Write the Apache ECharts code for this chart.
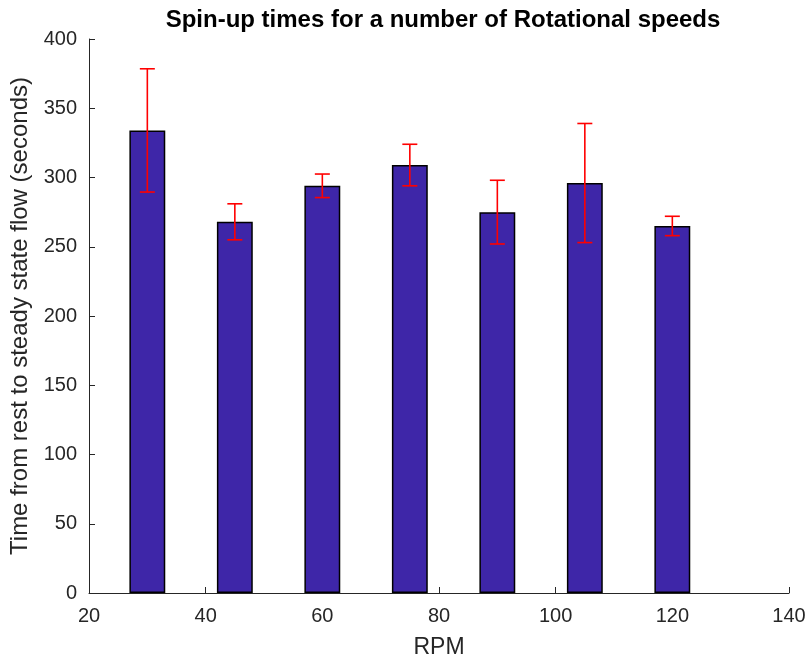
<!DOCTYPE html>
<html>
<head>
<meta charset="utf-8">
<title>Spin-up times</title>
<script src="https://cdn.jsdelivr.net/npm/echarts@6/dist/echarts.min.js"></script>
<style>
  html, body { margin: 0; padding: 0; background: #ffffff; }
  #chart { width: 809px; height: 664px; }
</style>
</head>
<body>
<div id="chart"></div>
<script>
// Rotational speeds (RPM) and the measured spin-up times
const rpm = [30, 45, 60, 75, 90, 105, 120];
const spinUpTime = [334, 268, 294, 309, 275, 296, 265];
const spinUpError = [44.5, 13, 8.5, 15, 23, 43, 7];

const xTicks = { min: 20, max: 140, interval: 20 };
const yTicks = { min: 0, max: 400, interval: 50 };

const FONT = '"Liberation Sans", Arial, Helvetica, sans-serif';
const INK = '#262626';

const chart = echarts.init(document.getElementById('chart'), null, { renderer: 'canvas' });

const barData = rpm.map((r, i) => [r, spinUpTime[i]]);
const errData = rpm.map((r, i) => [r, spinUpTime[i] - spinUpError[i], spinUpTime[i] + spinUpError[i]]);

const axisCommon = {
  axisLine: { show: true, lineStyle: { color: INK, width: 1 } },
  axisTick: { show: true, inside: true, length: 6, lineStyle: { color: INK, width: 1 } },
  splitLine: { show: false },
  axisLabel: { color: INK, fontFamily: FONT, fontSize: 20 },
  nameTextStyle: { color: INK, fontFamily: FONT, fontSize: 24 }
};

chart.setOption({
  animation: false,
  backgroundColor: '#ffffff',
  title: {
    text: 'Spin-up times for a number of Rotational speeds',
    left: 438,
    textAlign: 'center',
    top: 3,
    textStyle: { color: '#000000', fontFamily: FONT, fontSize: 24, fontWeight: 'bold' }
  },
  grid: { left: 89, right: 20, top: 39, bottom: 71, containLabel: false },
  xAxis: Object.assign({}, axisCommon, {
    type: 'value',
    min: xTicks.min,
    max: xTicks.max,
    interval: xTicks.interval,
    name: 'RPM',
    nameLocation: 'middle',
    nameGap: 43,
    nameTextStyle: Object.assign({}, axisCommon.nameTextStyle, { fontSize: 23 }),
    axisLabel: Object.assign({}, axisCommon.axisLabel, { margin: 13 })
  }),
  yAxis: Object.assign({}, axisCommon, {
    type: 'value',
    min: yTicks.min,
    max: yTicks.max,
    interval: yTicks.interval,
    name: 'Time from rest to steady state flow (seconds)',
    nameLocation: 'middle',
    nameGap: 56,
    axisLabel: Object.assign({}, axisCommon.axisLabel, { margin: 12 })
  }),
  series: [
    {
      type: 'bar',
      data: barData,
      barWidth: '41%',
      itemStyle: { color: '#3e26a8', borderColor: '#000000', borderWidth: 1.5 }
    },
    {
      type: 'custom',
      data: errData,
      encode: { x: 0, y: [1, 2] },
      z: 10,
      renderItem: function (params, api) {
        const x = api.value(0);
        const lo = api.coord([x, api.value(1)]);
        const hi = api.coord([x, api.value(2)]);
        const cap = 7.5;
        const style = { stroke: '#ff0000', lineWidth: 1.6, fill: null };
        return {
          type: 'group',
          children: [
            { type: 'line', shape: { x1: lo[0], y1: lo[1], x2: hi[0], y2: hi[1] }, style: style },
            { type: 'line', shape: { x1: lo[0] - cap, y1: lo[1], x2: lo[0] + cap, y2: lo[1] }, style: style },
            { type: 'line', shape: { x1: hi[0] - cap, y1: hi[1], x2: hi[0] + cap, y2: hi[1] }, style: style }
          ]
        };
      }
    }
  ]
});
</script>
</body>
</html>
